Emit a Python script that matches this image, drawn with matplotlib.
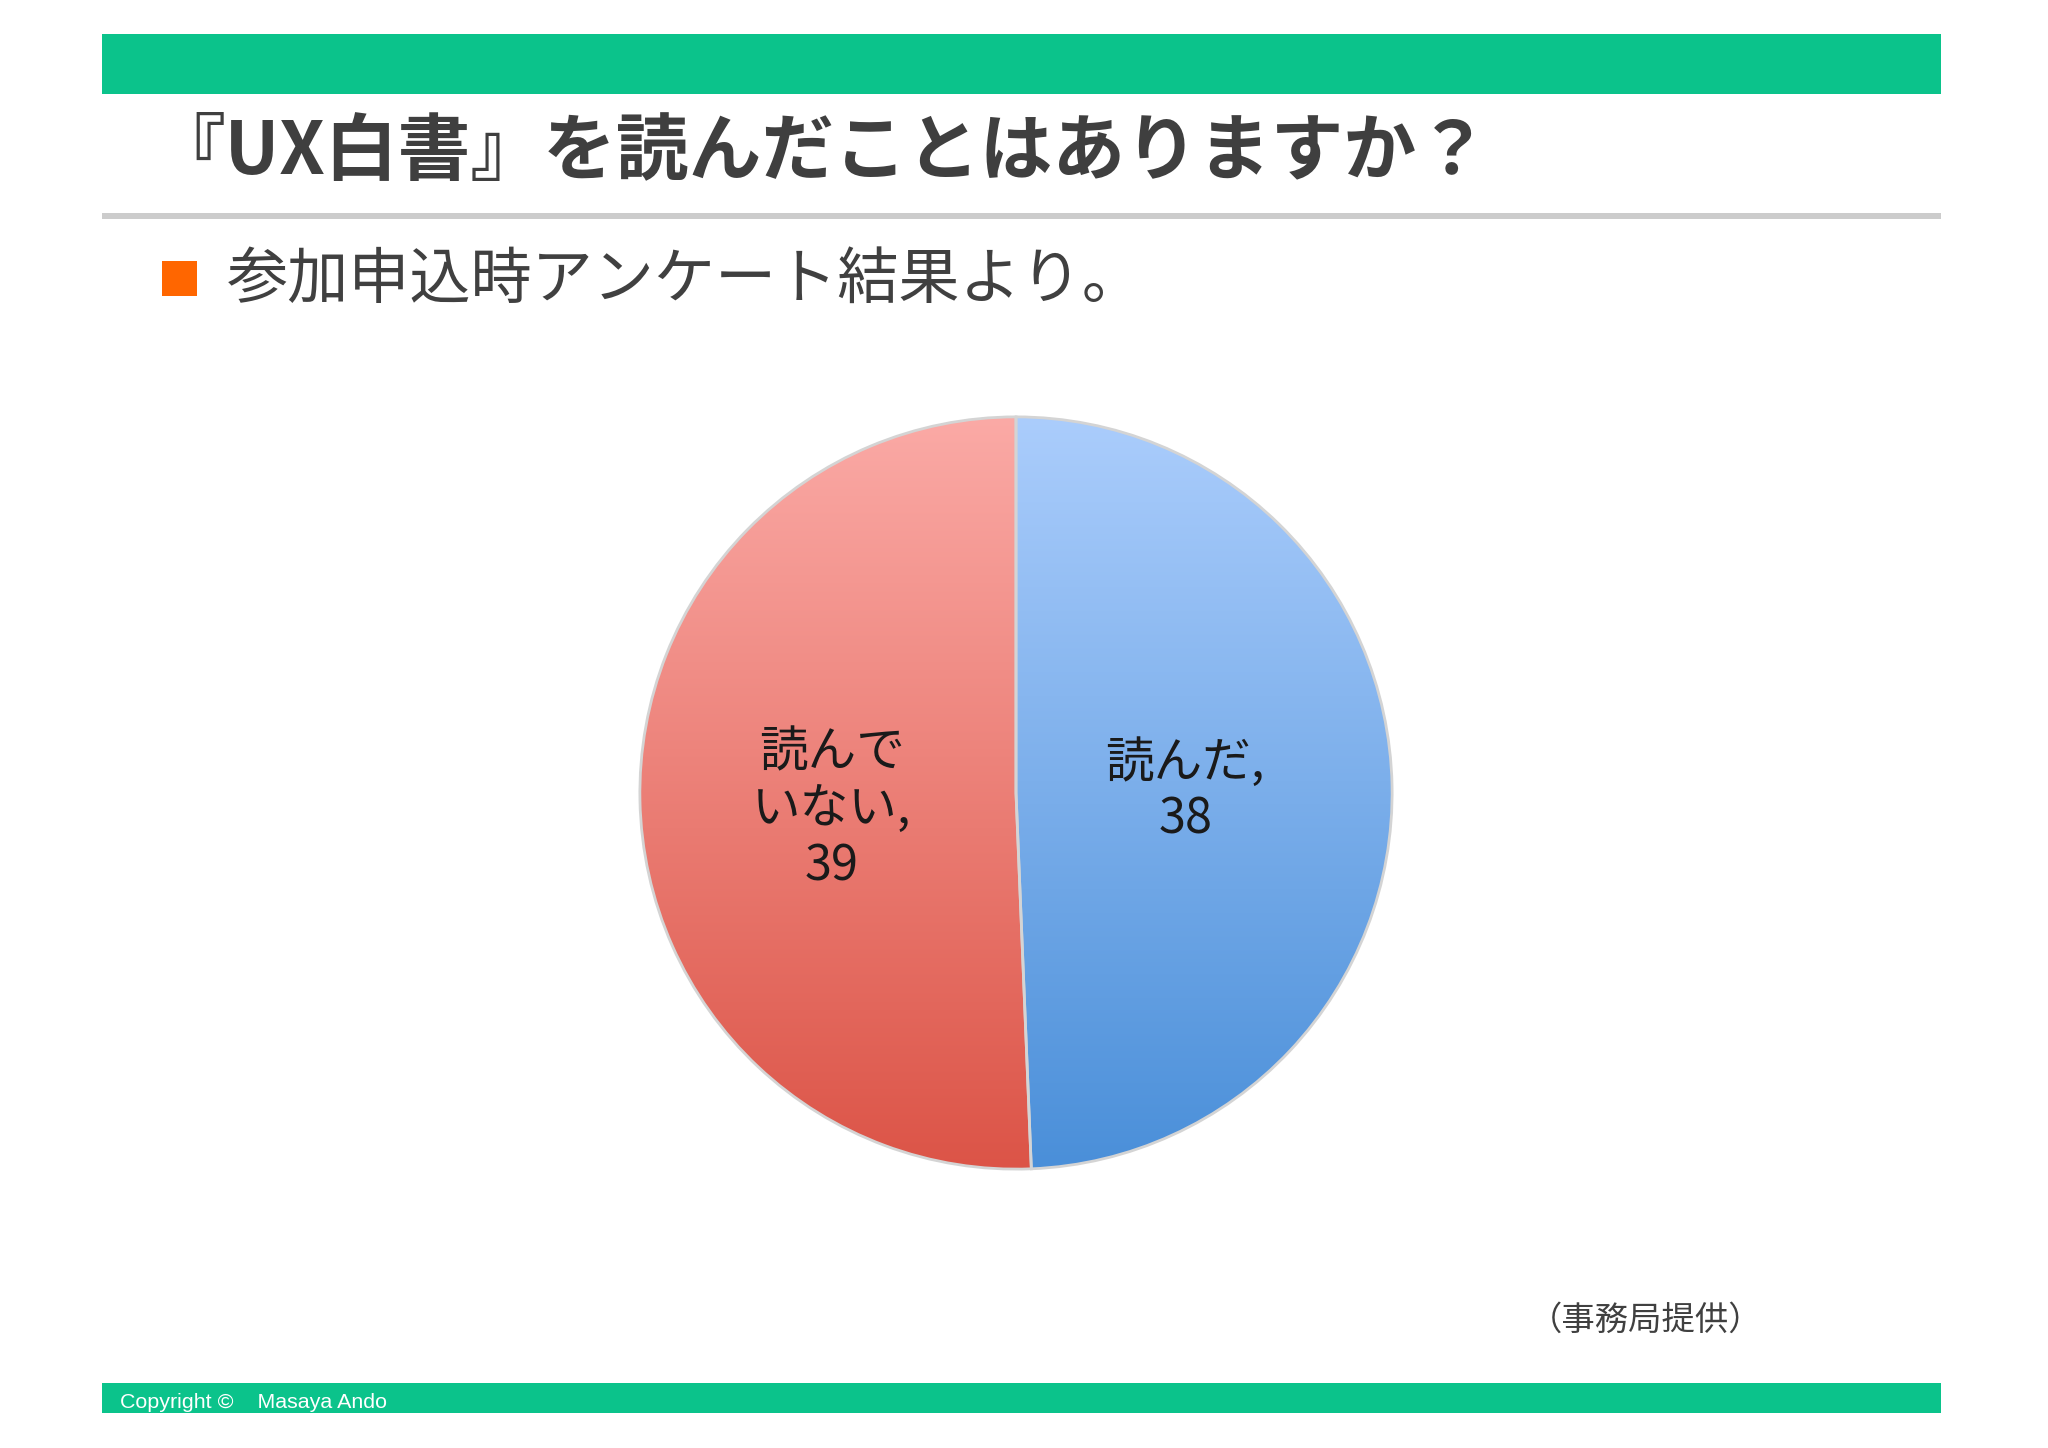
import matplotlib
matplotlib.use("Agg")
import matplotlib.pyplot as plt
import numpy as np
from matplotlib.patches import Rectangle
from matplotlib.colors import LinearSegmentedColormap

plt.rcParams['font.family'] = ['Noto Sans CJK JP', 'DejaVu Sans']

# ---- data ----
title = "『UX白書』を読んだことはありますか？"
subtitle = "参加申込時アンケート結果より。"
categories = ["読んだ", "読んでいない"]
label_texts = ["読んだ,\n38", "読んで\nいない,\n39"]
values = [38, 39]
source = "（事務局提供）"
copyright_text = "Copyright ©    Masaya Ando"

W, H = 2048, 1448
DPI = 200
fig = plt.figure(figsize=(W / DPI, H / DPI), dpi=DPI, facecolor="white")

# background axes in pixel coords
bg = fig.add_axes([0, 0, 1, 1])
bg.set_xlim(0, W)
bg.set_ylim(H, 0)
bg.axis("off")

green = "#0BC38B"
bg.add_patch(Rectangle((102, 34), 1839, 60, color=green, lw=0))
bg.add_patch(Rectangle((102, 213), 1839, 6, color="#CCCCCC", lw=0))
bg.add_patch(Rectangle((102, 1383), 1839, 30, color=green, lw=0))
bg.add_patch(Rectangle((162, 261), 35, 35, color="#FF6600", lw=0))

bg.text(152, 153, title, fontsize=26.2, fontweight="bold", color="#3F3F3F",
        ha="left", va="center")
bg.text(227, 281, subtitle, fontsize=22, color="#404040", ha="left",
        va="center")
bg.text(1646, 1320, source, fontsize=12, color="#404040", ha="center",
        va="center")
bg.text(120, 1402, copyright_text, fontsize=7.7, color="white", ha="left",
        va="center", family=["Liberation Sans Narrow", "Liberation Sans", "DejaVu Sans"])

# ---- pie ----
cx, cy, r = 1016, 793, 378
ax = fig.add_axes([(cx - r) / W, 1 - (cy + r) / H, 2 * r / W, 2 * r / H])
ax.axis("off")

wedges, _ = ax.pie(values, startangle=90, counterclock=False, radius=1,
                   wedgeprops=dict(edgecolor="#D4D4D4", linewidth=1.0))

grad_colors = [("#ABCDFC", "#4A8FD9"), ("#FBAAA6", "#DC5447")]
grad = np.linspace(0, 1, 256).reshape(-1, 1)
for w, (top, bot) in zip(wedges, grad_colors):
    w.set_facecolor("none")
    cmap = LinearSegmentedColormap.from_list("g", [top, bot])
    im = ax.imshow(grad, cmap=cmap, extent=(-1, 1, -1, 1), origin="upper",
                   aspect="auto", zorder=0.5)
    im.set_clip_path(w)
ax.set_xlim(-1.005, 1.005)
ax.set_ylim(-1.005, 1.005)
ax.set_aspect("equal")

label_dist = [0.45, 0.49]
label_dy = [-0.005, -0.035]
for w, txt, d, dy in zip(wedges, label_texts, label_dist, label_dy):
    ang = np.deg2rad((w.theta1 + w.theta2) / 2)
    x, y = d * np.cos(ang), d * np.sin(ang) + dy
    ax.text(x, y, txt, ha="center", va="center", fontsize=17.5,
            color="#1A1A1A", linespacing=1.2, zorder=5)

fig.savefig("out.png", dpi=DPI, facecolor="white")
